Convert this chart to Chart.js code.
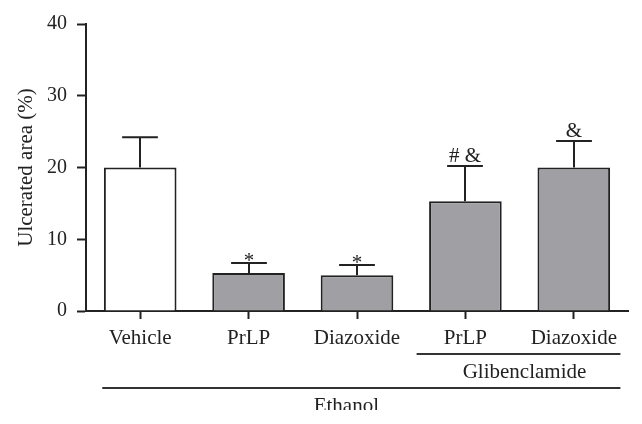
<!DOCTYPE html>
<html lang="en">
<head>
  <meta charset="UTF-8">
  <title>Ulcerated area</title>
  <script src="https://cdn.jsdelivr.net/npm/chart.js"></script>
  <style>
    html, body {
      margin: 0;
      padding: 0;
      background: #fff;
    }
    #wrap {
      width: 642px;
      height: 424px;
    }
  </style>
</head>
<body>

<div id="wrap"><canvas id="ulcerChart"></canvas></div>

<script>
const categorias = ['Vehicle', 'PrLP', 'Diazoxide', 'PrLP', 'Diazoxide'];
const valores = [20.0, 5.3, 5.0, 15.3, 20.0];
const errores = [4.2, 1.4, 1.4, 4.9, 3.7];
const marcas = ['', '*', '*', '# &', '&'];
const coloresBarra = ['#ffffff', '#a0a0a4', '#a0a0a4', '#a0a0a4', '#a0a0a4'];
const ticksY = [0, 10, 20, 30, 40];

// grupos bajo el eje: [texto, primera categoria, ultima categoria]
const grupos = [
  ['Glibenclamide', 3, 4, 0],
  ['Ethanol', 0, 4, 1]
];

const tinta = '#222222';
const fuenteSerif = '"Liberation Serif", "DejaVu Serif", serif';

const plugExtras = {
  id: 'extras',
  beforeDraw(chart) {
    const ctx = chart.ctx;
    ctx.save();
    ctx.fillStyle = '#ffffff';
    ctx.fillRect(0, 0, chart.width, chart.height);
    ctx.restore();
  },
  afterDatasetsDraw(chart) {
    const ctx = chart.ctx;
    const x = chart.scales.x;
    const y = chart.scales.y;
    const paso = x.getPixelForValue(1) - x.getPixelForValue(0);
    const capa = paso * 0.33;

    ctx.save();
    ctx.strokeStyle = tinta;
    ctx.fillStyle = tinta;
    ctx.lineWidth = 2;

    // barras de error (solo hacia arriba)
    valores.forEach((v, i) => {
      const cx = Math.round(x.getPixelForValue(i));
      const yBase = y.getPixelForValue(v);
      const yTop = y.getPixelForValue(v + errores[i]);
      ctx.beginPath();
      ctx.moveTo(cx, yBase);
      ctx.lineTo(cx, yTop);
      ctx.moveTo(cx - capa / 2, yTop);
      ctx.lineTo(cx + capa / 2, yTop);
      ctx.stroke();

      if (marcas[i]) {
        ctx.font = '21px ' + fuenteSerif;
        ctx.textAlign = 'center';
        ctx.textBaseline = 'alphabetic';
        const dy = marcas[i] === '*' ? 4 : -4;
        ctx.fillText(marcas[i], cx, yTop + dy);
      }
    });

    // lineas de grupo y sus nombres
    const yEje = y.getPixelForValue(0);
    grupos.forEach(([texto, desde, hasta, nivel]) => {
      let x0 = x.getPixelForValue(desde) - paso * 0.45;
      const x1 = x.getPixelForValue(hasta) + paso * 0.43;
      if (desde === 0) x0 = x.getPixelForValue(desde) - paso * 0.35;
      const yLinea = yEje + 43 + nivel * 34;
      ctx.lineWidth = 2;
      ctx.strokeStyle = '#333333';
      ctx.beginPath();
      ctx.moveTo(x0, yLinea);
      ctx.lineTo(x1, yLinea);
      ctx.stroke();

      ctx.save();
      ctx.beginPath();
      ctx.rect(0, 0, chart.width, 410);
      ctx.clip();
      ctx.font = '21px ' + fuenteSerif;
      ctx.textAlign = 'center';
      ctx.textBaseline = 'middle';
      ctx.fillStyle = tinta;
      const xTexto = nivel === 0 ? (x0 + x1) / 2 + 6 : (x0 + x1) / 2 - 15;
      ctx.fillText(texto, xTexto, yLinea + 18);
      ctx.restore();
    });
    ctx.restore();
  }
};

const ctx = document.getElementById('ulcerChart').getContext('2d');
new Chart(ctx, {
  type: 'bar',
  data: {
    labels: categorias,
    datasets: [{
      data: valores,
      backgroundColor: coloresBarra,
      borderColor: tinta,
      borderWidth: 2,
      categoryPercentage: 1,
      barPercentage: 0.67
    }]
  },
  options: {
    responsive: true,
    maintainAspectRatio: false,
    animation: false,
    devicePixelRatio: 1,
    layout: { padding: { top: 24, right: 14, left: 0, bottom: 0 } },
    plugins: {
      legend: { display: false },
      tooltip: { enabled: false }
    },
    scales: {
      x: {
        offset: true,
        afterFit: (s) => { s.height = 113; },
        grid: {
          offset: false,
          drawOnChartArea: false,
          drawTicks: true,
          tickLength: 8,
          tickWidth: 2,
          color: tinta
        },
        border: { display: true, color: tinta, width: 2 },
        ticks: {
          color: tinta,
          padding: 7,
          maxRotation: 0,
          autoSkip: false,
          font: { family: fuenteSerif, size: 21 }
        }
      },
      y: {
        min: 0,
        max: 40,
        afterFit: (s) => { s.width = 86; },
        afterBuildTicks: (s) => { s.ticks = ticksY.map(v => ({ value: v })); },
        grid: {
          drawOnChartArea: false,
          drawTicks: true,
          tickLength: 9,
          tickWidth: 2,
          color: tinta
        },
        border: { display: true, color: tinta, width: 2 },
        ticks: {
          color: tinta,
          padding: 10,
          font: { family: fuenteSerif, size: 20 }
        },
        title: {
          display: true,
          text: 'Ulcerated area (%)',
          color: tinta,
          padding: { top: 14, bottom: 0 },
          font: { family: fuenteSerif, size: 21 }
        }
      }
    }
  },
  plugins: [plugExtras]
});
</script>

</body>
</html>
